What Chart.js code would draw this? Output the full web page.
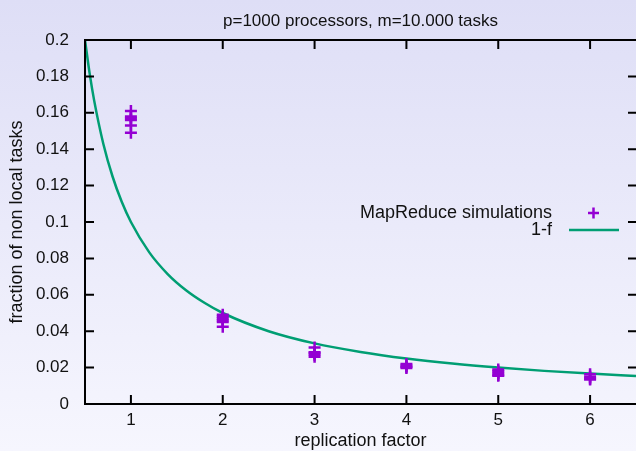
<!DOCTYPE html>
<html>
<head>
<meta charset="utf-8">
<script src="https://cdn.jsdelivr.net/npm/chart.js"></script>
<style>
html, body { margin: 0; padding: 0; }
body { width: 636px; height: 451px; overflow: hidden; background: linear-gradient(#dedef6, #f6f6fe); }
#wrap { width: 636px; height: 451px; position: relative; }
</style>
</head>
<body>
<div id="wrap"><canvas id="chart"></canvas></div>
<script>
// simulation runs: replication factor / fraction of non local tasks
const SIM_X = [1, 1, 1, 1, 1, 1,
               2, 2, 2, 2, 2, 2,
               3, 3, 3, 3, 3,
               4, 4, 4, 4,
               5, 5, 5, 5, 5,
               6, 6, 6, 6];
const SIM_Y = [0.161, 0.158, 0.157, 0.156, 0.153, 0.149,
               0.049, 0.048, 0.047, 0.046, 0.045, 0.0425,
               0.031, 0.0285, 0.028, 0.027, 0.026,
               0.022, 0.021, 0.0205, 0.0198,
               0.019, 0.018, 0.017, 0.016, 0.0155,
               0.0163, 0.015, 0.014, 0.0135];

// "1-f" curve
const CURVE_X = [0.5, 0.55, 0.6, 0.7, 0.8, 0.9, 1, 1.2, 1.4, 1.6, 1.8, 2, 2.5, 3, 3.5, 4, 4.5, 5, 5.5, 6, 6.5];
const CURVE_Y = [0.2, 0.1818, 0.1667, 0.1429, 0.125, 0.1111, 0.1, 0.0833, 0.0714, 0.0625, 0.0556, 0.05,
                 0.04, 0.0333, 0.0286, 0.025, 0.0222, 0.02, 0.0182, 0.0167, 0.0154];

const X_TICKS = [1, 2, 3, 4, 5, 6];
const Y_TICKS = [0, 0.02, 0.04, 0.06, 0.08, 0.1, 0.12, 0.14, 0.16, 0.18, 0.2];

const TITLE = 'p=1000 processors, m=10.000 tasks';
const X_TITLE = 'replication factor';
const Y_TITLE = 'fraction of non local tasks';
const SIM_LABEL = 'MapReduce simulations';
const CURVE_LABEL = '1-f';

const PURPLE = '#9400d3';
const GREEN = '#009e73';
const FONT = '"Liberation Sans", Arial, sans-serif';
const FSIZE = 17;

const simData = SIM_X.map((x, i) => ({ x: x, y: SIM_Y[i] }));
const curveData = CURVE_X.map((x, i) => ({ x: x, y: CURVE_Y[i] }));

const frame = {
  id: 'frame',
  afterDatasetsDraw(chart) {
    const ctx = chart.ctx, a = chart.chartArea;
    const xs = chart.scales.x, ys = chart.scales.y;
    ctx.save();
    ctx.strokeStyle = '#000';
    ctx.lineWidth = 2;
    // border: right side lies just past the canvas edge
    ctx.beginPath();
    ctx.moveTo(a.right + 2, a.top);
    ctx.lineTo(a.left, a.top);
    ctx.lineTo(a.left, a.bottom);
    ctx.lineTo(a.right + 2, a.bottom);
    ctx.stroke();
    ctx.beginPath();
    X_TICKS.forEach(v => {
      const px = xs.getPixelForValue(v);
      ctx.moveTo(px, a.bottom); ctx.lineTo(px, a.bottom - 9);
      ctx.moveTo(px, a.top); ctx.lineTo(px, a.top + 9);
    });
    Y_TICKS.forEach(v => {
      const py = ys.getPixelForValue(v);
      ctx.moveTo(a.left, py); ctx.lineTo(a.left + 9, py);
      ctx.moveTo(a.right + 1, py); ctx.lineTo(a.right - 8, py);
    });
    ctx.stroke();

    ctx.fillStyle = '#111';
    ctx.textBaseline = 'middle';
    ctx.textAlign = 'center';
    ctx.font = FSIZE + 'px ' + FONT;
    ctx.fillText(TITLE, (a.left + a.right) / 2, 21);
    ctx.font = '18px ' + FONT;
    ctx.fillText(X_TITLE, (a.left + a.right) / 2, 441);
    ctx.save();
    ctx.translate(17, (a.top + a.bottom) / 2);
    ctx.rotate(-Math.PI / 2);
    ctx.fillText(Y_TITLE, 0, 0);
    ctx.restore();

    // key
    ctx.textAlign = 'right';
    ctx.fillText(SIM_LABEL, 552, 213);
    ctx.fillText(CURVE_LABEL, 552, 230);
    ctx.strokeStyle = PURPLE;
    ctx.lineWidth = 2.5;
    ctx.beginPath();
    ctx.moveTo(588, 213); ctx.lineTo(599, 213);
    ctx.moveTo(593.5, 207.5); ctx.lineTo(593.5, 218.5);
    ctx.stroke();
    ctx.strokeStyle = GREEN;
    ctx.beginPath();
    ctx.moveTo(569, 230); ctx.lineTo(619, 230);
    ctx.stroke();
    ctx.restore();
  }
};

new Chart(document.getElementById('chart'), {
  type: 'scatter',
  data: {
    datasets: [{
      label: SIM_LABEL,
      data: simData,
      pointStyle: 'cross',
      pointRadius: 6,
      pointHoverRadius: 6,
      borderColor: PURPLE,
      backgroundColor: PURPLE,
      borderWidth: 2.5,
      showLine: false
    }, {
      label: CURVE_LABEL,
      data: curveData,
      showLine: true,
      pointRadius: 0,
      borderColor: GREEN,
      borderWidth: 2.5,
      cubicInterpolationMode: 'monotone',
      fill: false
    }]
  },
  options: {
    responsive: true,
    maintainAspectRatio: false,
    animation: false,
    layout: { autoPadding: false, padding: { top: 40, left: 0, right: 0, bottom: 0 } },
    plugins: { legend: { display: false }, tooltip: { enabled: false } },
    scales: {
      x: {
        type: 'linear',
        min: 0.5,
        max: 6.5,
        afterBuildTicks: s => { s.ticks = X_TICKS.map(v => ({ value: v })); },
        afterFit: s => { s.height = 47; s.paddingLeft = 0; s.paddingRight = 0; },
        grid: { display: false, drawTicks: false },
        border: { display: false },
        ticks: { color: '#111', padding: 6, font: { family: FONT, size: FSIZE }, maxRotation: 0 }
      },
      y: {
        min: 0,
        max: 0.2,
        afterBuildTicks: s => { s.ticks = Y_TICKS.map(v => ({ value: v })); },
        afterFit: s => { s.width = 85; s.paddingTop = 0; s.paddingBottom = 0; },
        grid: { display: false, drawTicks: false },
        border: { display: false },
        ticks: {
          color: '#111',
          padding: 16,
          font: { family: FONT, size: FSIZE },
          callback: v => String(+v.toFixed(2))
        }
      }
    }
  },
  plugins: [frame]
});
</script>
</body>
</html>
